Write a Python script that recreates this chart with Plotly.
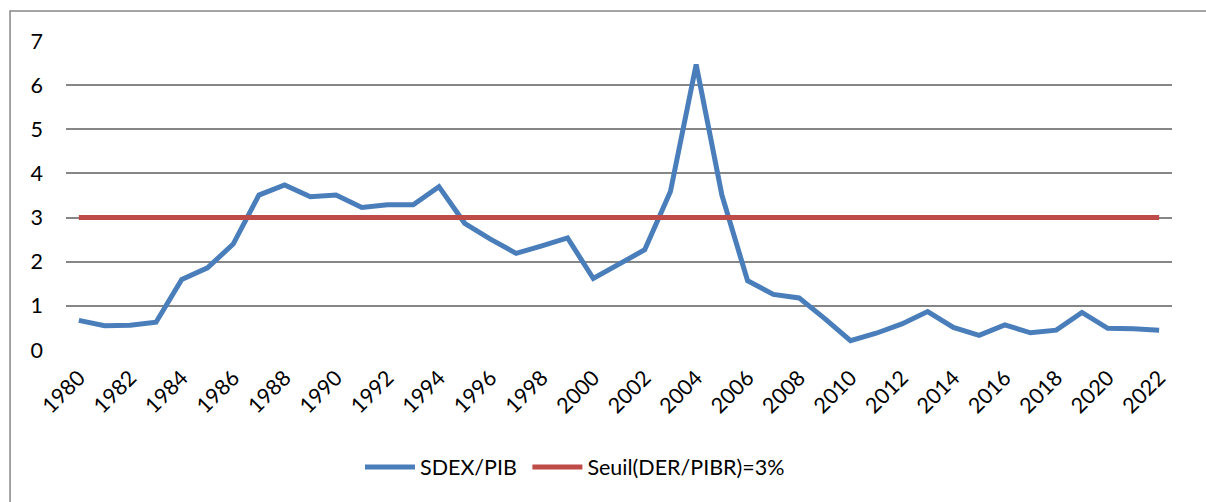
import plotly.graph_objects as go

years = list(range(1980, 2023))
sdex_pib = [0.67, 0.55, 0.56, 0.63, 1.60, 1.86, 2.40, 3.51, 3.74, 3.47,
            3.51, 3.23, 3.29, 3.29, 3.70, 2.87, 2.51, 2.19, 2.36, 2.54,
            1.62, 1.93, 2.27, 3.59, 6.47, 3.51, 1.57, 1.26, 1.18, 0.71,
            0.21, 0.38, 0.59, 0.87, 0.51, 0.33, 0.57, 0.39, 0.45, 0.85,
            0.49, 0.48, 0.45]
seuil = [3] * len(years)
tick_years = list(range(1980, 2023, 2))

FONT = "Lato"

fig = go.Figure()
fig.add_trace(go.Scatter(x=years, y=sdex_pib, mode="lines", name="SDEX/PIB\u00a0",
                         line=dict(color="#4a7ebb", width=5)))
fig.add_trace(go.Scatter(x=years, y=seuil, mode="lines", name="Seuil(DER/PIBR)=3%",
                         line=dict(color="#be4b48", width=5)))

fig.update_layout(
    width=1206, height=502,
    margin=dict(l=66, r=34, t=41, b=152, autoexpand=False),
    paper_bgcolor="white", plot_bgcolor="white",
    font=dict(family=FONT, size=21.5, color="black"),
    showlegend=True,
    legend=dict(orientation="h", x=0.2658, xanchor="left", y=-0.379, yanchor="middle",
                font=dict(family=FONT, size=21.5), itemwidth=50),
    xaxis=dict(range=[1979.5, 2022.5], tickmode="array", tickvals=tick_years,
               ticktext=[str(y) for y in tick_years], tickangle=-45,
               showgrid=False, zeroline=False, showline=False, ticks="",
               ticklabelstandoff=10, automargin=False),
    yaxis=dict(range=[0, 7], dtick=1, showgrid=True, gridcolor="#868686", gridwidth=1.5,
               zeroline=False, showline=False, ticks="", ticklabelstandoff=22,
               automargin=False),
    shapes=[dict(type="rect", xref="paper", yref="paper",
                 x0=-0.0506, x1=1.2, y0=-1.0, y1=1.097,
                 line=dict(color="#868686", width=1.5), layer="below")],
)

fig.write_html("out.html", config={"displayModeBar": False},
               post_script="document.body.style.margin='0';document.body.style.overflow='hidden';")
